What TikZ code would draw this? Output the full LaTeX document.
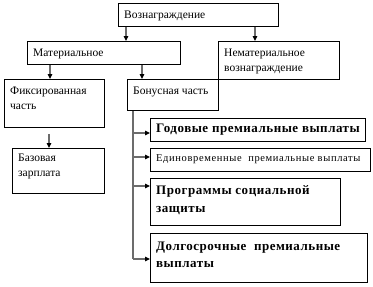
\documentclass[tikz,border=0pt]{standalone}
\usepackage{fontspec}
\setmainfont{Liberation Serif}
\newfontfamily\widefont[LetterSpace=6]{Liberation Serif}
\newfontfamily\widebold[LetterSpace=4]{Liberation Serif}
\usetikzlibrary{arrows.meta}

\begin{document}
\begin{tikzpicture}[
    x=1pt, y=-1pt,
    >={Triangle[length=5pt, width=4.5pt, color=black]},
    box/.style={draw, line width=0.9pt, anchor=north west, inner sep=0pt},
    txt/.style={anchor=north west, align=left, inner xsep=6pt, inner ysep=8pt,
        font=\fontsize{11.5}{15}\selectfont},
    btxt/.style={txt, inner ysep=7pt, font=\widebold\fontsize{13}{18}\selectfont\bfseries},
    conn/.style={draw=gray!85!black, line width=1.2pt},
    arr/.style={conn, ->}
]
\useasboundingbox (0,0) rectangle (373,287);

% Верхний уровень
\node[box, minimum width=160pt, minimum height=23pt] (root) at (118,3) {};
\node[txt] (roott) at (root.north west) {Вознаграждение};

% Второй уровень
\node[box, minimum width=153pt, minimum height=23pt] (mat) at (27,41) {};
\node[txt] (matt) at (mat.north west) {Материальное};
\node[box, minimum width=121pt, minimum height=38pt] (nemat) at (218,41) {};
\node[txt] (nematt) at (nemat.north west) {Нематериальное\\вознаграждение};

% Третий уровень
\node[box, minimum width=100pt, minimum height=48pt] (fix) at (4,79) {};
\node[txt] (fixt) at (fix.north west) {Фиксированная\\часть};
\node[box, minimum width=91pt, minimum height=31pt] (bon) at (127,79) {};
\node[txt] (bont) at (bon.north west) {Бонусная часть};
\node[box, minimum width=92pt, minimum height=45pt] (baz) at (12,148) {};
\node[txt, inner ysep=6pt] (bazt) at (baz.north west) {Базовая\\зарплата};

% Бонусы
\node[box, minimum width=215pt, minimum height=23pt] (g1) at (150,118) {};
\node[btxt, inner ysep=6pt] (g1t) at (g1.north west) {Годовые премиальные выплаты};
\node[box, minimum width=220pt, minimum height=23pt] (g2) at (150,148) {};
\node[txt, font=\widefont\fontsize{10.5}{12}\selectfont, inner ysep=6pt] (g2t) at (g2.north west) {Единовременные\ \ премиальные выплаты};
\node[box, minimum width=190pt, minimum height=47pt] (g3) at (150,178) {};
\node[btxt] (g3t) at (g3.north west) {Программы социальной\\защиты};
\node[box, minimum width=217pt, minimum height=49pt] (g4) at (150,233) {};
\node[btxt, inner ysep=9pt, font=\widebold\fontsize{13}{17}\selectfont\bfseries] (g4t) at (g4.north west) {Долгосрочные\ \ премиальные\\выплаты};

% Связи
\draw[arr] ([xshift=8pt]root.south west) -- ([xshift=8pt]root.south west |- mat.north);
\draw[arr] ([xshift=37pt]nemat.north west |- root.south) -- ([xshift=37pt]nemat.north west);
\draw[arr] ([xshift=23pt]mat.south west) -- ([xshift=23pt]mat.south west |- fix.north);
\draw[arr] ([xshift=15pt]bon.north west |- mat.south) -- ([xshift=15pt]bon.north west);
\draw[arr] ([xshift=45pt, yshift=-6pt]fix.south west) -- ([xshift=45pt]fix.south west |- baz.north);

\coordinate (trunk) at ([xshift=6pt]bon.south west);
\foreach \n/\dy in {g1/15, g2/9, g3/8, g4/26} {
    \coordinate (t\n) at ([yshift=-\dy pt]\n.north west);
}
\draw[conn] (trunk) -- (trunk |- tg4);
\foreach \n in {g1, g2, g3, g4} {
    \draw[arr] (trunk |- t\n) -- (t\n);
}

\end{tikzpicture}
\end{document}
